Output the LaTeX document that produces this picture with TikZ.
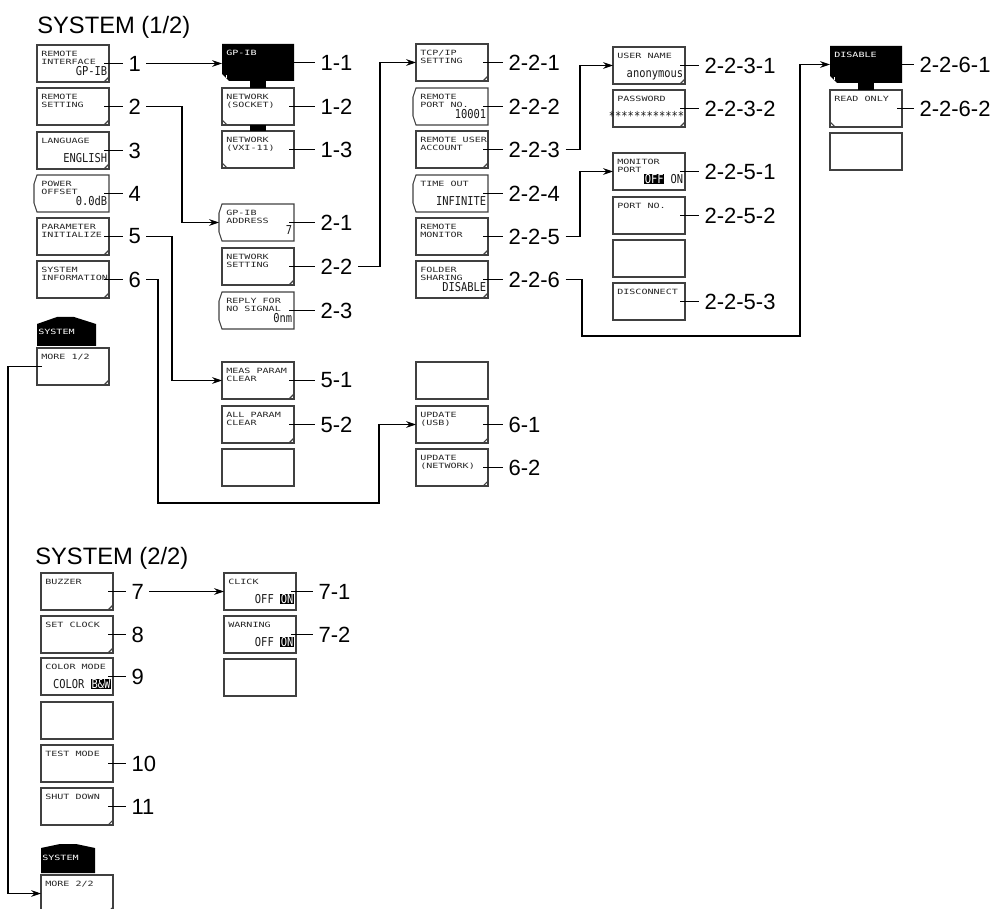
\documentclass[tikz,border=0pt]{standalone}
\usepackage{fontspec}
\setmainfont{Liberation Sans}
\newfontfamily\smallfam[FakeStretch=1.4]{DejaVu Sans Mono}
\newfontfamily\valfam[FakeStretch=0.85]{DejaVu Sans Mono}
\newcommand\smallf{\smallfam\fontsize{5.4}{6}\selectfont}
\newcommand\valf{\valfam\fontsize{9.2}{10}\selectfont}
\usetikzlibrary{calc,arrows.meta}
\newcommand\hlt[1]{{\setlength\fboxsep{0.6pt}\colorbox{black}{\textcolor{white}{#1}}}}
\tikzset{
  bl/.style={draw=black!75, line width=0.8pt},
  boxn/.style={anchor=north west, minimum width=54pt, minimum height=27.75pt, inner sep=0pt, outer sep=0pt},
  stxt/.style={anchor=north west, inner sep=0pt, font=\smallf, align=left, text=black!85},
  vtxt/.style={anchor=base east, inner sep=0pt, font=\valf, text=black!90},
  num/.style={font=\fontsize{16.5}{19}\selectfont, inner xsep=4pt, inner ysep=0pt},
  conn/.style={draw=black, line width=0.8pt},
  arr/.style={conn, -{Stealth[length=7.5pt,width=5pt]}},
  ttl/.style={anchor=base west, inner sep=0pt, font=\fontsize{17.8}{20}\selectfont},
  tabtxt/.style={anchor=west, inner sep=0pt, font=\smallf, text=white},
}
% box kinds
\newcommand\bxR[3]{\node[boxn] (#1) at (#2,#3) {};
  \draw[bl] (#1.south west) rectangle (#1.north east);
  \draw[bl] ($(#1.south east)+(-5,0)$) -- ($(#1.south east)+(0,-5)$);}
\newcommand\bxP[3]{\node[boxn] (#1) at (#2,#3) {};
  \draw[bl] (#1.south west) rectangle (#1.north east);}
\newcommand\bxA[3]{\node[boxn] (#1) at (#2,#3) {};
  \draw[bl] (#1.north west) -- ++(-3,9) -- ($(#1.south west)+(-3,-9)$) -- (#1.south west) -- (#1.south east) -- (#1.north east) -- cycle;}
\newcommand\bxL[3]{\node[boxn] (#1) at (#2,#3) {};
  \draw[bl] (#1.south west) rectangle (#1.north east);
  \draw[bl] ($(#1.south west)+(0,-5)$) -- ($(#1.south west)+(5,0)$);}
\newcommand\bxK[3]{\node[boxn] (#1) at (#2,#3) {};
  \fill[black] (#1.north west) -- (#1.north east) -- (#1.south east) -- ($(#1.south west)+(7,0)$) -- ($(#1.south west)+(0,-7)$) -- cycle;
  \draw[white, line width=0.6pt] ($(#1.south west)+(4,-3)$) -- ($(#1.south west)+(4,-6)$);}
\newcommand\tx[2]{\node[stxt] at ([shift={(4,5.5)}]#1.north west) {#2};}
\newcommand\txw[2]{\node[stxt, text=white] at ([shift={(4,5.5)}]#1.north west) {#2};}
\newcommand\vl[2]{\node[vtxt] at ([shift={(-1.5,30.5)}]#1.north east) {#2};}
\newcommand\lab[4]{\node[num, anchor=west] (#2) at (#3,0 |- #1) {#4};
  \draw[conn] ([shift={(-5,0)}]#1.east) -- (#2.west);}
\newcommand\stem[2]{\fill[black] ([xshift=-6pt]#1.south) rectangle ([xshift=6pt]#2.north);}

\begin{document}
\begin{tikzpicture}[x=0.75pt, y=-0.75pt]
\useasboundingbox (0,0) rectangle (993,909);
\clip (0,0) rectangle (993,909);

% titles
\node[ttl] (t1) at (37,33.5) {SYSTEM (1/2)};
\node[ttl] (t2) at (35,564.5) {SYSTEM (2/2)};

% ---------- column A
\bxR{b1}{37}{45}  \tx{b1}{REMOTE\\INTERFACE} \vl{b1}{GP-IB}
\bxR{b2}{37}{88}  \tx{b2}{REMOTE\\SETTING}
\bxR{b3}{37}{132} \tx{b3}{LANGUAGE} \vl{b3}{ENGLISH}
\bxA{b4}{37}{175} \tx{b4}{POWER\\OFFSET} \vl{b4}{0.0dB}
\bxR{b5}{37}{218} \tx{b5}{PARAMETER\\INITIALIZE}
\bxR{b6}{37}{261} \tx{b6}{SYSTEM\\INFORMATION}
% system tab 1
\fill[black] (37,346) -- (37,324) -- (57,317) -- (74,317) -- (96,324) -- (96,346) -- cycle;
\node[tabtxt] (tab1) at (38,332) {SYSTEM};
\bxR{more1}{37}{348} \tx{more1}{MORE 1/2}

\lab{b1}{l1}{123}{1}
\lab{b2}{l2}{123}{2}
\lab{b3}{l3}{123}{3}
\lab{b4}{l4}{123}{4}
\lab{b5}{l5}{123}{5}
\lab{b6}{l6}{123}{6}

% ---------- column B
\bxK{b11}{222}{44} \txw{b11}{GP-IB}
\bxL{b12}{222}{88} \tx{b12}{NETWORK\\(SOCKET)}
\bxL{b13}{222}{131} \tx{b13}{NETWORK\\(VXI-11)}
\stem{b11}{b12}
\stem{b12}{b13}
\bxA{b21}{222}{204} \tx{b21}{GP-IB\\ADDRESS} \vl{b21}{7}
\bxR{b22}{222}{248} \tx{b22}{NETWORK\\SETTING}
\bxA{b23}{222}{292} \tx{b23}{REPLY FOR\\NO SIGNAL} \vl{b23}{0nm}
\bxR{b51}{222}{362} \tx{b51}{MEAS PARAM\\CLEAR}
\bxR{b52}{222}{406} \tx{b52}{ALL PARAM\\CLEAR}
\bxP{b5e}{222}{449}

\lab{b11}{l11}{315}{1-1}
\lab{b12}{l12}{315}{1-2}
\lab{b13}{l13}{315}{1-3}
\lab{b21}{l21}{315}{2-1}
\lab{b22}{l22}{315}{2-2}
\lab{b23}{l23}{315}{2-3}
\lab{b51}{l51}{315}{5-1}
\lab{b52}{l52}{315}{5-2}

% ---------- column C
\bxR{b221}{416}{44}  \tx{b221}{TCP/IP\\SETTING}
\bxA{b222}{416}{88}  \tx{b222}{REMOTE\\PORT NO.} \vl{b222}{10001}
\bxR{b223}{416}{131} \tx{b223}{REMOTE USER\\ACCOUNT}
\bxA{b224}{416}{175} \tx{b224}{TIME OUT} \vl{b224}{INFINITE}
\bxR{b225}{416}{218} \tx{b225}{REMOTE\\MONITOR}
\bxR{b226}{416}{261} \tx{b226}{FOLDER\\SHARING} \vl{b226}{DISABLE}
\bxP{b6e}{416}{362}
\bxR{b61}{416}{406} \tx{b61}{UPDATE\\(USB)}
\bxR{b62}{416}{449} \tx{b62}{UPDATE\\(NETWORK)}

\lab{b221}{l221}{503}{2-2-1}
\lab{b222}{l222}{503}{2-2-2}
\lab{b223}{l223}{503}{2-2-3}
\lab{b224}{l224}{503}{2-2-4}
\lab{b225}{l225}{503}{2-2-5}
\lab{b226}{l226}{503}{2-2-6}
\lab{b61}{l61}{503}{6-1}
\lab{b62}{l62}{503}{6-2}

% ---------- column D
\bxR{b2231}{613}{47} \tx{b2231}{USER NAME} \vl{b2231}{anonymous}
\bxR{b2232}{613}{90} \tx{b2232}{PASSWORD}
\node[vtxt] (pw) at ([shift={(-0.5,31)}]b2232.north east) {************};
\bxP{b2251}{613}{153} \tx{b2251}{MONITOR\\PORT} \vl{b2251}{\hlt{OFF} ON}
\bxP{b2252}{613}{197} \tx{b2252}{PORT NO.}
\bxP{b225e}{613}{240}
\bxP{b2253}{613}{283} \tx{b2253}{DISCONNECT}

\lab{b2231}{l2231}{699}{2-2-3-1}
\lab{b2232}{l2232}{699}{2-2-3-2}
\lab{b2251}{l2251}{699}{2-2-5-1}
\lab{b2252}{l2252}{699}{2-2-5-2}
\lab{b2253}{l2253}{699}{2-2-5-3}

% ---------- column E
\bxK{b2261}{830}{46} \txw{b2261}{DISABLE}
\bxL{b2262}{830}{90} \tx{b2262}{READ ONLY}
\bxP{b226e}{830}{133}
\stem{b2261}{b2262}

\lab{b2261}{l2261}{914}{2-2-6-1}
\lab{b2262}{l2262}{914}{2-2-6-2}

% ---------- SYSTEM (2/2)
\bxR{bz}{41}{573}  \tx{bz}{BUZZER}
\bxR{bsc}{41}{616} \tx{bsc}{SET CLOCK}
\bxP{bcm}{41}{658} \tx{bcm}{COLOR MODE} \vl{bcm}{COLOR \hlt{B\&W}}
\bxP{b9e}{41}{702}
\bxP{btm}{41}{745} \tx{btm}{TEST MODE}
\bxR{bsd}{41}{788} \tx{bsd}{SHUT DOWN}
\fill[black] (41,873) -- (41,848) -- (60,844) -- (76,844) -- (95,848) -- (95,873) -- cycle;
\node[tabtxt] (tab2) at (42,858) {SYSTEM};
\bxR{more2}{41}{875} \tx{more2}{MORE 2/2}

\bxP{b71}{224}{573} \tx{b71}{CLICK} \vl{b71}{OFF \hlt{ON}}
\bxP{b72}{224}{616} \tx{b72}{WARNING} \vl{b72}{OFF \hlt{ON}}
\bxP{b7e}{224}{659}

\lab{bz}{l7}{126}{7}
\lab{bsc}{l8}{126}{8}
\lab{bcm}{l9}{126}{9}
\lab{btm}{l10}{126}{10}
\lab{bsd}{l11}{126}{11}
\lab{b71}{l71}{313}{7-1}
\lab{b72}{l72}{313}{7-2}

% ---------- connectors
\draw[arr] (l1.east) -- (l1.east -| b11.west);
\draw[arr] (l2.east) -| ($(b21.west)+(-40,0)$) -- ($(b21.west)+(-3,0)$);
\draw[arr] (l5.east) -| ($(b51.west)+(-50,0)$) -- (b51.west);
\draw[arr] (l6.east) -| (158,503) -| ($(b61.west)+(-37,0)$) -- (b61.west);
\draw[arr] ($(more1.west)+(5,0)$) -| ($(more2.west)+(-33,0)$) -- (more2.west);
\draw[arr] (l22.east) -| ($(b221.west)+(-36,0)$) -- (b221.west);
\draw[arr] (l223.east) -| ($(b2231.west)+(-33,0)$) -- (b2231.west);
\draw[arr] (l225.east) -| ($(b2251.west)+(-33,0)$) -- (b2251.west);
\draw[arr] (l226.east) -| (582,336) -| ($(b2261.west)+(-30,0)$) -- (b2261.west);
\draw[arr] (l7.east) -- (l7.east -| b71.west);
\end{tikzpicture}
\end{document}
